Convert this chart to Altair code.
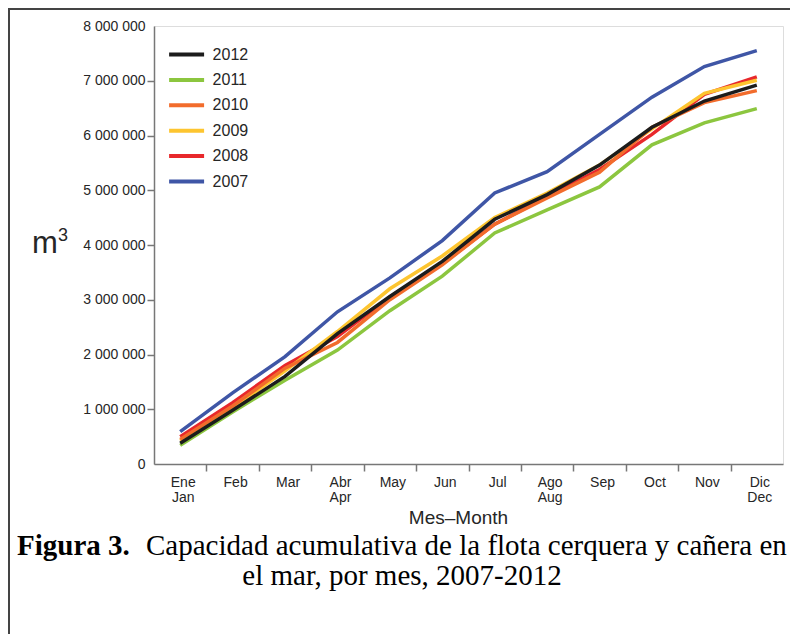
import altair as alt
import pandas as pd

# ---------------- data ----------------
months = list(range(1, 13))
month_es = ["Ene", "Feb", "Mar", "Abr", "May", "Jun", "Jul", "Ago", "Sep", "Oct", "Nov", "Dic"]
month_en = ["Jan", "Feb", "Mar", "Apr", "May", "Jun", "Jul", "Aug", "Sep", "Oct", "Nov", "Dec"]

years = ["2007", "2008", "2009", "2010", "2011", "2012"]
colors = ["#3f56a6", "#e8282b", "#fdc530", "#f26c2c", "#8cc63f", "#1c1c1c"]

# cumulative capacity, millions of m3
cap_2007 = [0.59, 1.30, 1.96, 2.78, 3.40, 4.08, 4.95, 5.34, 6.02, 6.70, 7.26, 7.55]
cap_2008 = [0.50, 1.12, 1.80, 2.33, 3.05, 3.66, 4.38, 4.88, 5.38, 6.02, 6.75, 7.07]
cap_2009 = [0.42, 1.02, 1.70, 2.42, 3.20, 3.80, 4.50, 4.95, 5.46, 6.12, 6.77, 7.01]
cap_2010 = [0.45, 1.06, 1.75, 2.22, 3.00, 3.64, 4.38, 4.86, 5.33, 6.15, 6.60, 6.82]
cap_2011 = [0.34, 0.95, 1.53, 2.08, 2.80, 3.43, 4.22, 4.64, 5.06, 5.83, 6.23, 6.49]
cap_2012 = [0.38, 0.98, 1.60, 2.38, 3.06, 3.70, 4.47, 4.92, 5.46, 6.15, 6.63, 6.92]
series = [cap_2007, cap_2008, cap_2009, cap_2010, cap_2011, cap_2012]

y_ticks = [0, 1000000, 2000000, 3000000, 4000000, 5000000, 6000000, 7000000, 8000000]
x_ticks = [1.5, 2.5, 3.5, 4.5, 5.5, 6.5, 7.5, 8.5, 9.5, 10.5, 11.5]

x_title = "Mes\u2013Month"
y_unit = "m"
y_unit_sup = "3"
caption_bold = "Figura 3."
caption_line1 = "Capacidad acumulativa de la flota cerquera y cañera en"
caption_line2 = "el mar, por mes, 2007-2012"

# ---------------- tables ----------------
rows = []
for yr, vals in zip(years, series):
    for m, v in zip(months, vals):
        rows.append({"year": yr, "month": m, "value": v * 1_000_000})
df = pd.DataFrame(rows)

lab_df = pd.DataFrame({
    "month": months,
    "label": [e if e == n else e + "\n" + n for e, n in zip(month_es, month_en)],
})
one = pd.DataFrame({"k": [0]})

W, H = 629, 438
FONT = "Liberation Sans"
SERIF = "Liberation Serif"
TXT = "#262626"

xscale = alt.Scale(domain=[0.5, 12.5], nice=False, zero=False)
xaxis = alt.Axis(
    values=x_ticks, labels=False, grid=False, tickSize=7, tickWidth=1.5,
    tickColor="#777", domainColor="#777", domainWidth=1.5,
    title=x_title, titleFont=FONT, titleFontSize=19, titleFontWeight="normal",
    titleColor=TXT, titleX=304, titleY=59, titleAlign="center",
    titleBaseline="alphabetic",
)
x_enc = alt.X("month:Q", scale=xscale, axis=xaxis)

lines = alt.Chart(df).mark_line(strokeWidth=3.5).encode(
    x=x_enc,
    y=alt.Y(
        "value:Q",
        scale=alt.Scale(domain=[0, 8000000], nice=False),
        axis=alt.Axis(
            values=y_ticks, grid=False, title=None, tickSize=7, tickWidth=1.5,
            tickColor="#777", domainColor="#777", domainWidth=1.5,
            tickOpacity={"condition": {"test": "datum.value == 0 || datum.value == 8000000", "value": 0}, "value": 1},
            labelFont=FONT, labelFontSize=14, labelColor=TXT, labelPadding=2,
            labelExpr="replace(format(datum.value, ','), regexp(',', 'g'), ' ')",
        ),
    ),
    color=alt.Color(
        "year:N",
        scale=alt.Scale(domain=years[::-1], range=colors[::-1]),
        legend=alt.Legend(
            orient="none", legendX=24.6, legendY=20.5, title=None,
            symbolType="M-3,0H3", symbolSize=136, symbolStrokeWidth=4,
            labelFont=FONT, labelFontSize=16, labelColor=TXT,
            labelOffset=18, rowPadding=9.4, padding=0,
        ),
    ),
)

month_labels = alt.Chart(lab_df).mark_text(
    baseline="top", align="center", fontSize=14, lineHeight=14.5,
    lineBreak="\n", color=TXT, font=FONT, dx=3,
).encode(x=x_enc, y=alt.value(H + 12), text="label:N")

unit_m = alt.Chart(pd.DataFrame({"t": [y_unit]})).mark_text(
    align="left", baseline="alphabetic", fontSize=31, font=FONT, color=TXT
).encode(x=alt.value(-122), y=alt.value(227), text="t:N")
unit_sup = alt.Chart(pd.DataFrame({"t": [y_unit_sup]})).mark_text(
    align="left", baseline="alphabetic", fontSize=18, font=FONT, color=TXT
).encode(x=alt.value(-96), y=alt.value(215), text="t:N")

cap_b = alt.Chart(pd.DataFrame({"t": [caption_bold]})).mark_text(
    align="left", baseline="alphabetic", fontSize=29, font=SERIF, fontWeight="bold", color="#000"
).encode(x=alt.value(-137), y=alt.value(529), text="t:N")
cap_1 = alt.Chart(pd.DataFrame({"t": [caption_line1]})).mark_text(
    align="left", baseline="alphabetic", fontSize=29, font=SERIF, color="#000"
).encode(x=alt.value(-8), y=alt.value(529), text="t:N")
cap_2 = alt.Chart(pd.DataFrame({"t": [caption_line2]})).mark_text(
    align="center", baseline="alphabetic", fontSize=29, font=SERIF, color="#000"
).encode(x=alt.value(248), y=alt.value(559), text="t:N")

frame_left = alt.Chart(one).mark_rule(color="#444", strokeWidth=2).encode(
    x=alt.value(-145), y=alt.value(-18), y2=alt.value(H + 200)
)
frame_top = alt.Chart(one).mark_rule(color="#444", strokeWidth=2).encode(
    x=alt.value(-146), x2=alt.value(W + 20), y=alt.value(-17)
)

chart = alt.layer(
    frame_left, frame_top, lines, month_labels, unit_m, unit_sup, cap_b, cap_1, cap_2
).properties(
    width=W, height=H,
    autosize=alt.AutoSizeParams(type="none"),
    padding={"left": 146, "top": 18, "right": 7, "bottom": 170},
).configure_view(
    stroke="#a0a0a0", strokeWidth=1.5
).configure(background="white")

chart.save("out.html", embed_options={"renderer": "svg", "actions": False})
